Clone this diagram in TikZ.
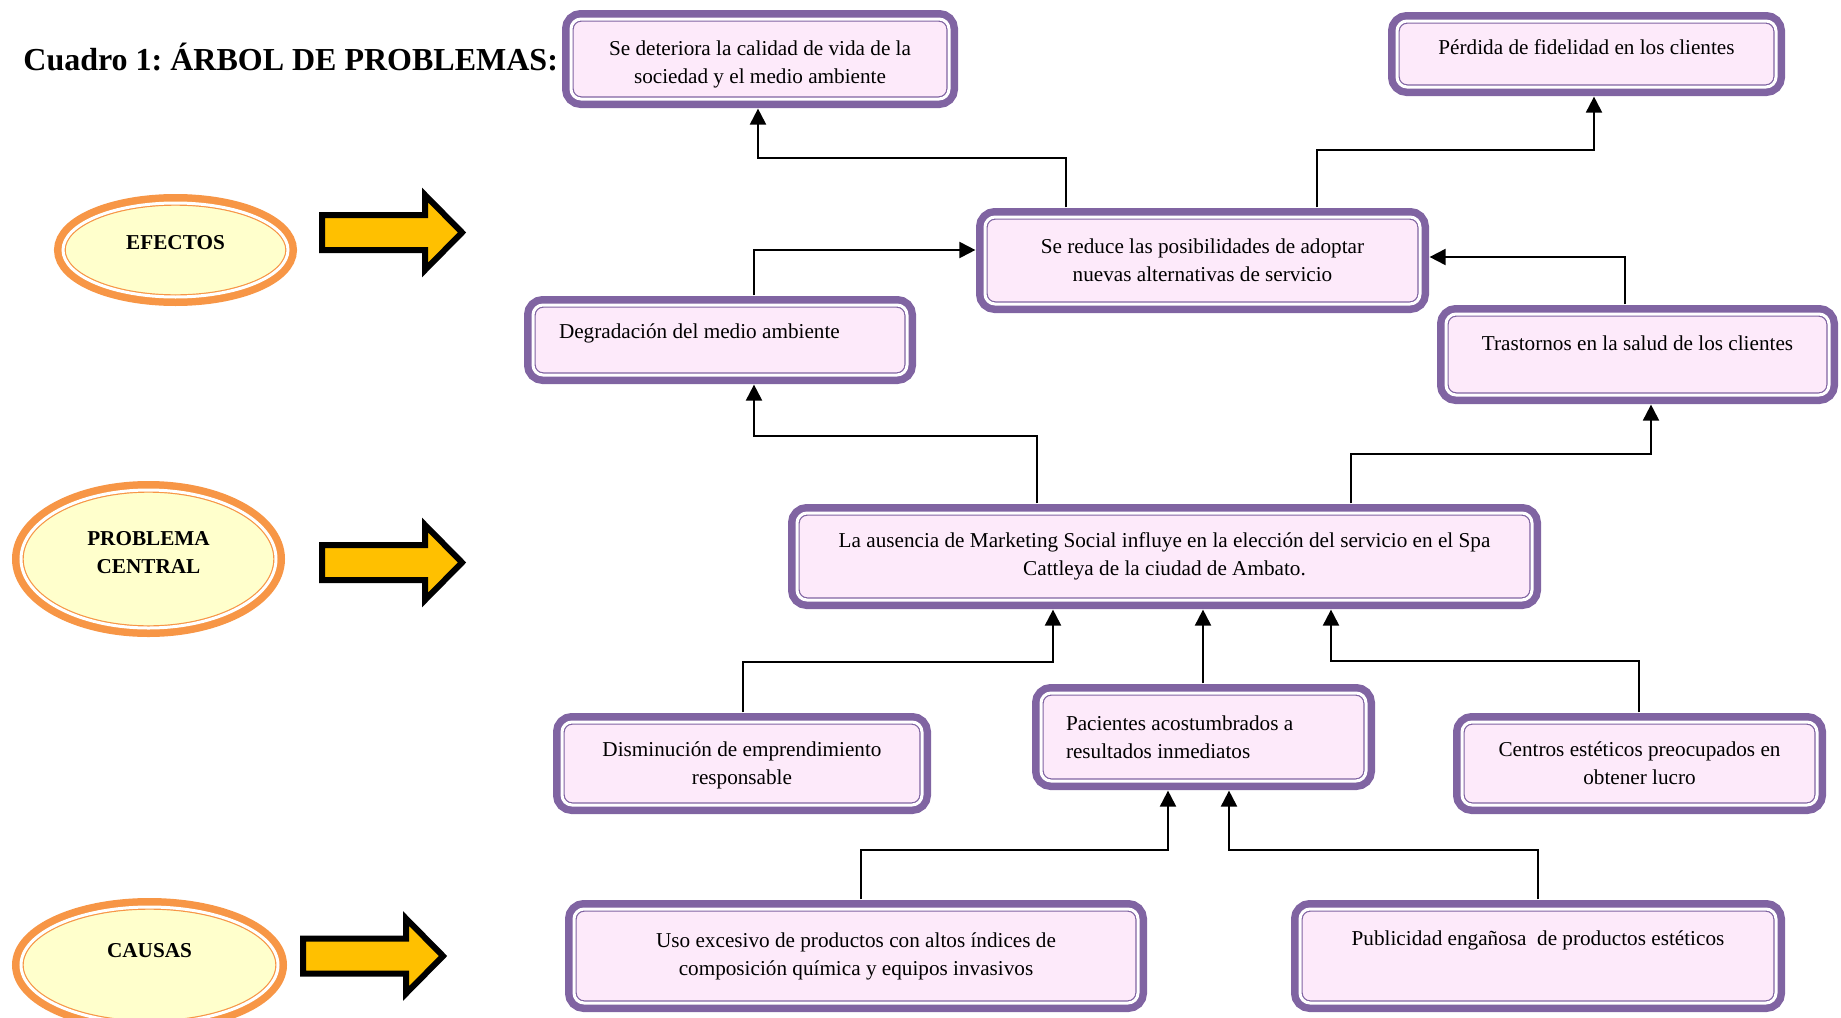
\documentclass[tikz,border=0pt]{standalone}
\usepackage{fontspec}
\setmainfont{Liberation Serif}
\usetikzlibrary{arrows.meta,shapes.geometric}
\frenchspacing

\definecolor{boxpurple}{RGB}{128,100,162}
\definecolor{boxpink}{RGB}{253,234,250}
\definecolor{ellorange}{RGB}{247,150,70}
\definecolor{ellyellow}{RGB}{255,255,204}
\definecolor{arrowgold}{RGB}{255,192,0}

\newcommand{\treefont}{\fontsize{10.6}{14}\selectfont}

\tikzset{
  probbox/.style={rectangle, rounded corners=5pt, draw=boxpurple, fill=boxpink,
    line width=0.6pt, double=white, double distance=1.5pt,
    preaction={draw=boxpurple, line width=9pt},
    inner sep=0pt, align=center, font=\treefont},
  tier/.style={ellipse, draw=ellorange, fill=ellyellow,
    line width=0.6pt, double=white, double distance=1.5pt,
    preaction={draw=ellorange, line width=9pt},
    inner sep=0pt, align=center, font=\treefont\bfseries},
  lift/.style={text depth=#1},
  fatarrow/.style={draw=black, fill=arrowgold, line width=3pt, line join=miter},
  conn/.style={line width=1pt, -{Triangle[length=8pt,width=8pt]},
    shorten <=4.5pt, shorten >=4.5pt},
}

\begin{document}
\begin{tikzpicture}[x=0.5pt, y=-0.5pt]
  \useasboundingbox (0,0) rectangle (1841,1017);

  \node[anchor=west, inner sep=0pt, font=\fontsize{16}{19}\selectfont\bfseries] (title) at (23,57) {Cuadro 1: ÁRBOL DE PROBLEMAS:};

  % niveles
  \node[tier, minimum width=112.5pt, minimum height=47pt, lift=8pt] (efectos) at (175.5,250) {EFECTOS};
  \node[tier, minimum width=127.5pt, minimum height=69pt, lift=7pt] (problema) at (148.5,559) {PROBLEMA\\CENTRAL};
  \node[tier, minimum width=128.5pt, minimum height=58pt, lift=15pt] (causas) at (149.5,965) {CAUSAS};

  \foreach \ax/\ay in {0/232.5, 0/562.5, -19/956}
    \draw[fatarrow] (322+\ax,\ay-17.5) -- ++(103,0) -- ++(0,-20) -- ++(37,37.5)
      -- ++(-37,37.5) -- ++(0,-20) -- ++(-103,0) -- cycle;

  % efectos
  \node[probbox, minimum width=189pt, minimum height=40pt, text height=27pt] (deterioro) at (760,59) {Se deteriora la calidad de vida de la\\sociedad y el medio ambiente};
  \node[probbox, minimum width=189.5pt, minimum height=33pt, lift=7pt] (fidelidad) at (1586.5,54) {Pérdida de fidelidad en los clientes};
  \node[probbox, minimum width=217.5pt, minimum height=43.5pt] (posibilidades) at (1202.5,260.5) {Se reduce las posibilidades de adoptar\\nuevas alternativas de servicio};
  \node[probbox, minimum height=35pt, text width=161pt, inner xsep=13pt, align=flush left, lift=9.3pt] (degradacion) at (720,340) {Degradación del medio ambiente};
  \node[probbox, minimum width=191.5pt, minimum height=40.5pt, lift=11pt] (salud) at (1637.5,354.5) {Trastornos en la salud de los clientes};

  % problema central
  \node[probbox, minimum width=367.5pt, minimum height=43.5pt] (central) at (1164.5,556.5) {La ausencia de Marketing Social influye en la elección del servicio en el Spa\\Cattleya de la ciudad de Ambato.};

  % causas
  \node[probbox, minimum width=180pt, minimum height=41.5pt, lift=0pt] (emprendimiento) at (742,763.5) {Disminución de emprendimiento\\responsable};
  \node[probbox, minimum height=44pt, text width=137.5pt, inner xsep=12.5pt, align=flush left] (pacientes) at (1203.5,737) {Pacientes acostumbrados a\\resultados inmediatos};
  \node[probbox, minimum width=177.5pt, minimum height=41.5pt] (lucro) at (1639.5,763.5) {Centros estéticos preocupados en\\obtener lucro};
  \node[probbox, minimum width=282pt, minimum height=47pt] (productos) at (856,956) {Uso excesivo de productos con altos índices de\\composición química y equipos invasivos};
  \node[probbox, minimum width=238pt, minimum height=47pt, lift=18pt] (publicidad) at (1538,956) {Publicidad engañosa\ \ de productos estéticos};

  % conexiones
  \draw[conn] (1066,0 |- posibilidades.north) |- (758,158) -- (758,0 |- deterioro.south);
  \draw[conn] (1317,0 |- posibilidades.north) |- (1594,150) -- (1594,0 |- fidelidad.south);
  \draw[conn] (754,0 |- degradacion.north) |- ([yshift=5.25pt]posibilidades.west);
  \draw[conn] (1625,0 |- salud.north) |- ([yshift=1.75pt]posibilidades.east);
  \draw[conn] (1037,0 |- central.north) |- (754,436) -- (754,0 |- degradacion.south);
  \draw[conn] (1351,0 |- central.north) |- (1651,454) -- (1651,0 |- salud.south);
  \draw[conn] (743,0 |- emprendimiento.north) |- (1053,662) -- (1053,0 |- central.south);
  \draw[conn] (1203,0 |- pacientes.north) -- (1203,0 |- central.south);
  \draw[conn] (1639,0 |- lucro.north) |- (1331,661) -- (1331,0 |- central.south);
  \draw[conn] (861,0 |- productos.north) |- (1168,850) -- (1168,0 |- pacientes.south);
  \draw[conn] (1538,0 |- publicidad.north) |- (1229,850) -- (1229,0 |- pacientes.south);
\end{tikzpicture}
\end{document}
